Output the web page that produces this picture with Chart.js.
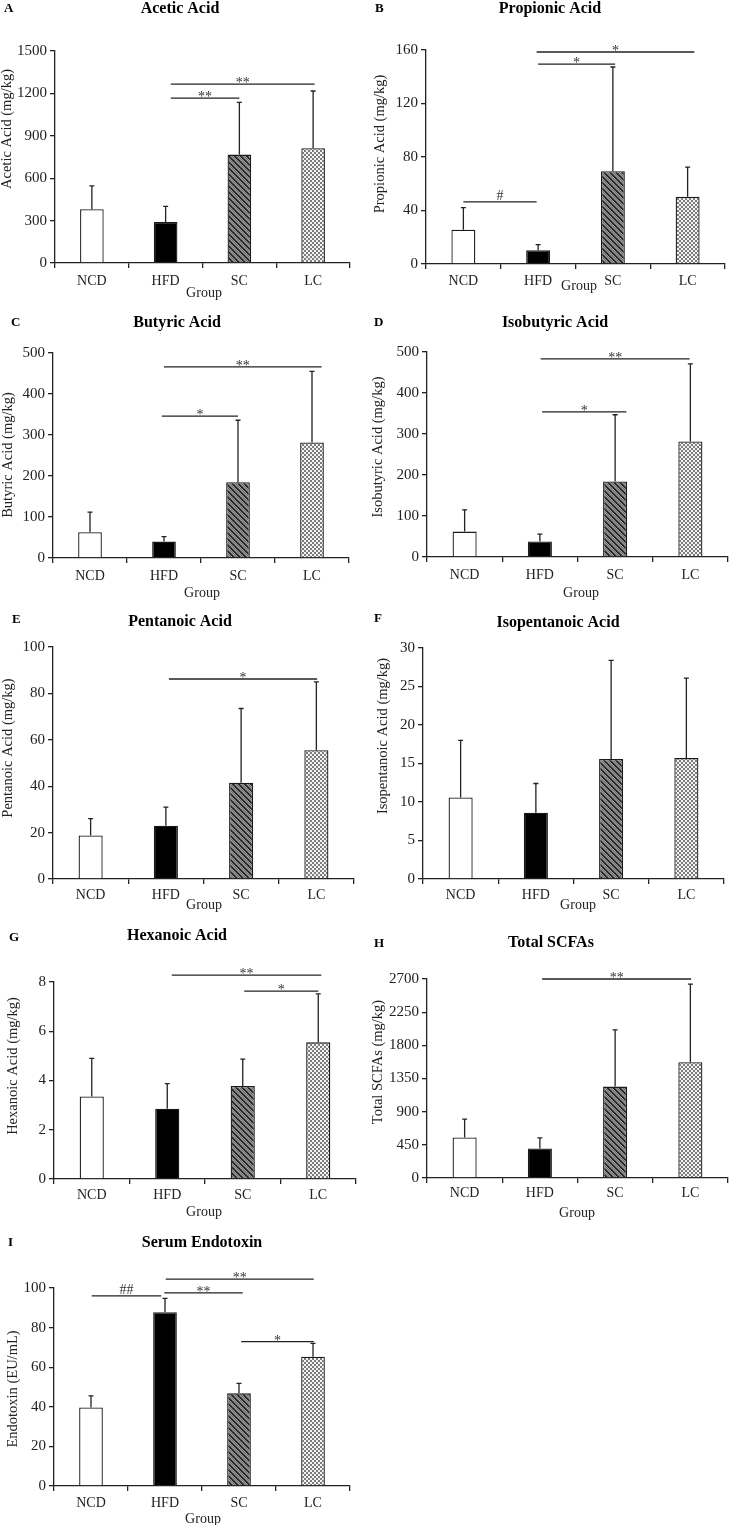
<!DOCTYPE html>
<html>
<head>
<meta charset="utf-8">
<script src="https://cdn.jsdelivr.net/npm/chart.js@4.4.1/dist/chart.umd.min.js"></script>
<style>
  body { margin: 0; background: #fff; width: 730px; height: 1525px; position: relative; overflow: hidden; }
  canvas { position: absolute; }
</style>
</head>
<body>
<script>
const groups = ['NCD', 'HFD', 'SC', 'LC'];

// mean and SD (upper whisker) per group
const aceticMean = [380, 290, 767, 812];
const aceticSd = [165, 110, 370, 405];
const propionicMean = [25.7, 10.2, 69.3, 50.2];
const propionicSd = [16.5, 4.3, 78, 22.3];
const butyricMean = [63, 40, 185, 282];
const butyricSd = [49, 12, 151, 173];
const isobutyricMean = [62, 38, 184, 282];
const isobutyricSd = [53, 18, 163, 189];
const pentanoicMean = [18.8, 23, 41.5, 55.5];
const pentanoicSd = [7.2, 8, 32, 29.5];
const isopentanoicMean = [10.6, 8.6, 15.6, 15.7];
const isopentanoicSd = [7.4, 3.8, 12.8, 10.4];
const hexanoicMean = [3.35, 2.85, 3.78, 5.55];
const hexanoicSd = [1.55, 1.02, 1.09, 1.97];
const totalMean = [550, 400, 1240, 1570];
const totalSd = [250, 145, 770, 1060];
const endotoxinMean = [39.7, 87.8, 46.8, 65.3];
const endotoxinSd = [5.8, 7, 5, 6.7];

// significance brackets: [from group, to group, y value, label]
const aceticSig = [[1.07, 2.0, 1167, '**'], [1.07, 3.02, 1266, '**']];
const propionicSig = [[0, 0.98, 46.4, '#'], [1.0, 2.03, 149.5, '*'], [0.98, 3.09, 158.5, '*']];
const butyricSig = [[0.97, 2.0, 346, '*'], [1.0, 3.13, 466, '**']];
const isobutyricSig = [[1.03, 2.15, 354, '*'], [1.01, 2.99, 483, '**']];
const pentanoicSig = [[1.04, 3.01, 86.2, '*']];
const isopentanoicSig = [];
const hexanoicSig = [[1.06, 3.04, 8.28, '**'], [2.02, 3.0, 7.63, '*']];
const totalSig = [[1.03, 3.01, 2700, '**']];
const endotoxinSig = [[0.01, 0.95, 96, '##'], [0.99, 2.05, 97.5, '**'], [1.01, 3.01, 104.5, '**'], [2.03, 3.01, 72.9, '*']];

const SERIF = "'Liberation Serif', 'Times New Roman', serif";
const INK = '#222';

function makePattern(kind) {
    const c = document.createElement('canvas');
    const n = kind === 'diag' ? 6 : 4;
    c.width = n; c.height = n;
    const g = c.getContext('2d');
    for (let y = 0; y < n; y++) {
        for (let x = 0; x < n; x++) {
            let col;
            if (kind === 'diag') col = (((x - y) % n) + n) % n < 2 ? '#262626' : ((x + y) % 2 ? '#9a9a9a' : '#6e6e6e');
            else col = ((Math.floor(x / 2) + Math.floor(y / 2)) % 2) ? '#7c7c7c' : '#f4f4f4';
            g.fillStyle = col;
            g.fillRect(x, y, 1, 1);
        }
    }
    return c.getContext('2d').createPattern(c, 'repeat');
}

const fills = ['#ffffff', '#000000', makePattern('diag'), makePattern('check')];

const panels = [
    {letter: 'A', title: 'Acetic Acid', yLabel: 'Acetic Acid (mg/kg)', mean: aceticMean, sd: aceticSd, sig: aceticSig,
     max: 1500, step: 300, box: [0, 0], area: [55, 51, 350, 263], letterAt: [8, 9], titleAt: [180, 9], yTitle: [7, 129], groupAt: [204, 293], tickPad: 6},
    {letter: 'B', title: 'Propionic Acid', yLabel: 'Propionic Acid (mg/kg)', mean: propionicMean, sd: propionicSd, sig: propionicSig,
     max: 160, step: 40, box: [365, 0], area: [61, 50, 360, 264], letterAt: [14, 9], titleAt: [185, 9], yTitle: [15, 144], groupAt: [214, 286], tickPad: 5},
    {letter: 'C', title: 'Butyric Acid', yLabel: 'Butyric Acid (mg/kg)', mean: butyricMean, sd: butyricSd, sig: butyricSig,
     max: 500, step: 100, box: [0, 300], area: [53, 53, 349, 258], letterAt: [15, 23], titleAt: [177, 23], yTitle: [8, 155], groupAt: [202, 293], tickPad: 6},
    {letter: 'D', title: 'Isobutyric Acid', yLabel: 'Isobutyric Acid (mg/kg)', mean: isobutyricMean, sd: isobutyricSd, sig: isobutyricSig,
     max: 500, step: 100, box: [365, 300], area: [62, 52, 363, 257], letterAt: [13, 23], titleAt: [190, 23], yTitle: [13, 147], groupAt: [216, 293], tickPad: 6},
    {letter: 'E', title: 'Pentanoic Acid', yLabel: 'Pentanoic Acid (mg/kg)', mean: pentanoicMean, sd: pentanoicSd, sig: pentanoicSig,
     max: 100, step: 20, box: [0, 600], area: [53, 47, 354, 279], letterAt: [16, 20], titleAt: [180, 22], yTitle: [8, 148], groupAt: [204, 305], tickPad: 4},
    {letter: 'F', title: 'Isopentanoic Acid', yLabel: 'Isopentanoic Acid (mg/kg)', mean: isopentanoicMean, sd: isopentanoicSd, sig: isopentanoicSig,
     max: 30, step: 5, box: [365, 600], area: [58, 48, 359, 279], letterAt: [13, 19], titleAt: [193, 23], yTitle: [18, 136], groupAt: [213, 305], tickPad: 4},
    {letter: 'G', title: 'Hexanoic Acid', yLabel: 'Hexanoic Acid (mg/kg)', mean: hexanoicMean, sd: hexanoicSd, sig: hexanoicSig,
     max: 8, step: 2, box: [0, 900], area: [54, 82, 356, 279], letterAt: [13, 38], titleAt: [177, 36], yTitle: [13, 166], groupAt: [204, 312], tickPad: 4},
    {letter: 'H', title: 'Total SCFAs', yLabel: 'Total SCFAs (mg/kg)', mean: totalMean, sd: totalSd, sig: totalSig,
     max: 2700, step: 450, box: [365, 900], area: [62, 79, 363, 278], letterAt: [13, 44], titleAt: [186, 43], yTitle: [13, 162], groupAt: [212, 313], tickPad: 3},
    {letter: 'I', title: 'Serum Endotoxin', yLabel: 'Endotoxin (EU/mL)', mean: endotoxinMean, sd: endotoxinSd, sig: endotoxinSig,
     max: 100, step: 20, box: [0, 1200], area: [54, 88, 350, 286], letterAt: [12, 43], titleAt: [202, 43], yTitle: [13, 189], groupAt: [203, 319], tickPad: 5}
];

const decor = {
    id: 'decor',
    afterDatasetsDraw(chart) {
        const p = chart.options.plugins.decor.panel;
        const ctx = chart.ctx;
        const xs = chart.scales.x, ys = chart.scales.y;
        const bars = chart.getDatasetMeta(0).data;
        ctx.save();
        ctx.strokeStyle = INK;
        ctx.lineWidth = 1.3;
        // upper error bars
        p.mean.forEach((m, i) => {
            const x = bars[i].x;
            const yTop = ys.getPixelForValue(m + p.sd[i]);
            ctx.beginPath();
            ctx.moveTo(x, bars[i].y);
            ctx.lineTo(x, yTop);
            ctx.moveTo(x - 2.5, yTop);
            ctx.lineTo(x + 2.5, yTop);
            ctx.stroke();
        });
        // significance lines
        ctx.fillStyle = '#333';
        ctx.font = '14px ' + SERIF;
        ctx.textAlign = 'center';
        ctx.textBaseline = 'alphabetic';
        p.sig.forEach(([a, b, v, label]) => {
            const x1 = xs.getPixelForValue(a), x2 = xs.getPixelForValue(b);
            const y = ys.getPixelForValue(v);
            ctx.beginPath();
            ctx.moveTo(x1, y);
            ctx.lineTo(x2, y);
            ctx.stroke();
            ctx.fillText(label, (x1 + x2) / 2, label[0] === '#' ? y - 2 : y + 3);
        });
        ctx.restore();
    },
    afterDraw(chart) {
        const p = chart.options.plugins.decor.panel;
        const ctx = chart.ctx;
        ctx.save();
        ctx.fillStyle = '#000';
        ctx.textBaseline = 'middle';
        ctx.textAlign = 'left';
        ctx.font = 'bold 13px ' + SERIF;
        ctx.fillText(p.letter, p.letterAt[0] - 4, p.letterAt[1]);
        ctx.textAlign = 'center';
        ctx.font = 'bold 16px ' + SERIF;
        ctx.fillText(p.title, p.titleAt[0], p.titleAt[1]);
        ctx.fillStyle = INK;
        ctx.font = '14px ' + SERIF;
        ctx.fillText('Group', p.groupAt[0], p.groupAt[1]);
        // y axis title
        ctx.font = '14.5px ' + SERIF;
        ctx.translate(p.yTitle[0], p.yTitle[1]);
        ctx.rotate(-Math.PI / 2);
        ctx.fillText(p.yLabel, 0, 0);
        ctx.restore();
    }
};

panels.forEach(p => {
    const h = p.letter === 'I' ? 325 : 320;
    const canvas = document.createElement('canvas');
    canvas.width = 365;
    canvas.height = h;
    canvas.style.left = p.box[0] + 'px';
    canvas.style.top = p.box[1] + 'px';
    document.body.appendChild(canvas);

    new Chart(canvas, {
        type: 'bar',
        data: {
            labels: groups,
            datasets: [{
                data: p.mean,
                backgroundColor: fills,
                borderColor: '#1a1a1a',
                borderWidth: 1.3,
                barPercentage: 0.32,
                categoryPercentage: 1
            }]
        },
        options: {
            responsive: false,
            animation: false,
            events: [],
            layout: {padding: {left: 0, top: p.area[1], right: 365 - p.area[2], bottom: 0}},
            plugins: {legend: {display: false}, tooltip: {enabled: false}, decor: {panel: p}},
            scales: {
                x: {
                    grid: {display: true, drawOnChartArea: false, offset: true, tickLength: 5, color: INK, lineWidth: 1.3},
                    border: {color: INK, width: 1.3},
                    ticks: {color: INK, padding: p.tickPad, maxRotation: 0, autoSkip: false, font: {family: SERIF, size: 14, lineHeight: 1}},
                    afterFit: s => { s.height = h - p.area[3]; }
                },
                y: {
                    min: 0,
                    max: p.max,
                    grid: {drawOnChartArea: false, tickLength: 5, color: INK, lineWidth: 1.3},
                    border: {color: INK, width: 1.3},
                    ticks: {stepSize: p.step, color: INK, padding: 3, font: {family: SERIF, size: 15}, callback: v => String(v)},
                    afterFit: s => { s.width = p.area[0]; }
                }
            }
        },
        plugins: [decor]
    });
});
</script>
</body>
</html>
